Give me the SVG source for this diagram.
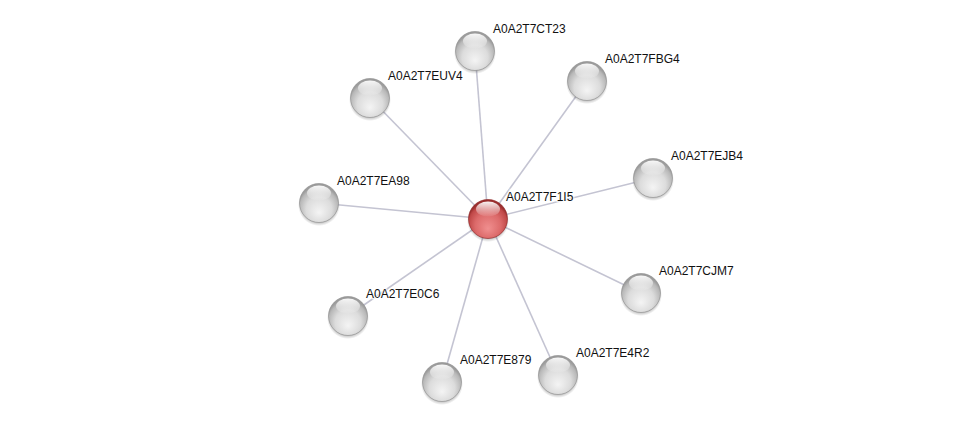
<svg xmlns="http://www.w3.org/2000/svg" width="976" height="427" viewBox="0 0 976 427">
<defs>
<radialGradient id="gGray" cx="0.5" cy="0.62" r="0.55" fx="0.5" fy="0.75">
<stop offset="0" stop-color="#f4f4f4"/>
<stop offset="0.6" stop-color="#dcdcdc"/>
<stop offset="0.9" stop-color="#b8b8b8"/>
<stop offset="1" stop-color="#9c9c9c"/>
</radialGradient>
<radialGradient id="gRed" cx="0.5" cy="0.62" r="0.55" fx="0.5" fy="0.75">
<stop offset="0" stop-color="#f08f8f"/>
<stop offset="0.6" stop-color="#dc6a6a"/>
<stop offset="0.9" stop-color="#c04848"/>
<stop offset="1" stop-color="#9a2e2e"/>
</radialGradient>
<linearGradient id="gHi" x1="0" y1="0" x2="0" y2="1">
<stop offset="0" stop-color="#ffffff" stop-opacity="0.95"/>
<stop offset="1" stop-color="#ffffff" stop-opacity="0.05"/>
</linearGradient>
<radialGradient id="gShadow" cx="0.5" cy="0.5" r="0.5">
<stop offset="0.75" stop-color="#000" stop-opacity="0.35"/>
<stop offset="1" stop-color="#000" stop-opacity="0"/>
</radialGradient>
<g id="sphere">
<circle cx="0" cy="2" r="21" fill="url(#gShadow)"/>
<circle cx="0" cy="0" r="19.5" fill="url(#gGray)" stroke="#8a8a8a" stroke-width="0.6"/>
<ellipse cx="0" cy="-10" rx="12" ry="7.5" fill="url(#gHi)"/>
</g>
<g id="sphereRed">
<circle cx="0" cy="2" r="21" fill="url(#gShadow)"/>
<circle cx="0" cy="0" r="19.5" fill="url(#gRed)" stroke="#8a2020" stroke-width="0.6"/>
<ellipse cx="0" cy="-10" rx="12" ry="7.5" fill="url(#gHi)"/>
</g>
</defs>
<style>
.edge{stroke:#c4c4d2;stroke-width:1.6;fill:none}
.lbl{font-family:"Liberation Sans",Arial,sans-serif;font-size:12px;fill:#111;paint-order:stroke;stroke:#ffffff;stroke-width:2.5;stroke-opacity:0.7}
</style>
<rect width="976" height="427" fill="#ffffff"/>
<g id="connectors">
<line class="edge" x1="488" y1="219" x2="475" y2="51"/>
<line class="edge" x1="488" y1="219" x2="587" y2="81"/>
<line class="edge" x1="488" y1="219" x2="370" y2="98"/>
<line class="edge" x1="488" y1="219" x2="653" y2="178"/>
<line class="edge" x1="488" y1="219" x2="319" y2="203"/>
<line class="edge" x1="488" y1="219" x2="641" y2="293"/>
<line class="edge" x1="488" y1="219" x2="348" y2="316"/>
<line class="edge" x1="488" y1="219" x2="442" y2="382"/>
<line class="edge" x1="488" y1="219" x2="558" y2="375"/>
</g>
<g id="n_CT23"><use href="#sphere" x="475" y="51"/><text class="lbl" x="493" y="33">A0A2T7CT23</text></g>
<g id="n_FBG4"><use href="#sphere" x="587" y="81"/><text class="lbl" x="605" y="63">A0A2T7FBG4</text></g>
<g id="n_EUV4"><use href="#sphere" x="370" y="98"/><text class="lbl" x="388" y="80">A0A2T7EUV4</text></g>
<g id="n_EJB4"><use href="#sphere" x="653" y="178"/><text class="lbl" x="671" y="160">A0A2T7EJB4</text></g>
<g id="n_EA98"><use href="#sphere" x="319" y="203"/><text class="lbl" x="337" y="185">A0A2T7EA98</text></g>
<g id="n_CJM7"><use href="#sphere" x="641" y="293"/><text class="lbl" x="659" y="275">A0A2T7CJM7</text></g>
<g id="n_E0C6"><use href="#sphere" x="348" y="316"/><text class="lbl" x="366" y="298">A0A2T7E0C6</text></g>
<g id="n_E879"><use href="#sphere" x="442" y="382"/><text class="lbl" x="460" y="364">A0A2T7E879</text></g>
<g id="n_E4R2"><use href="#sphere" x="558" y="375"/><text class="lbl" x="576" y="357">A0A2T7E4R2</text></g>
<g id="n_F1I5"><use href="#sphereRed" x="488" y="219"/><text class="lbl" x="506" y="201">A0A2T7F1I5</text></g>
</svg>
